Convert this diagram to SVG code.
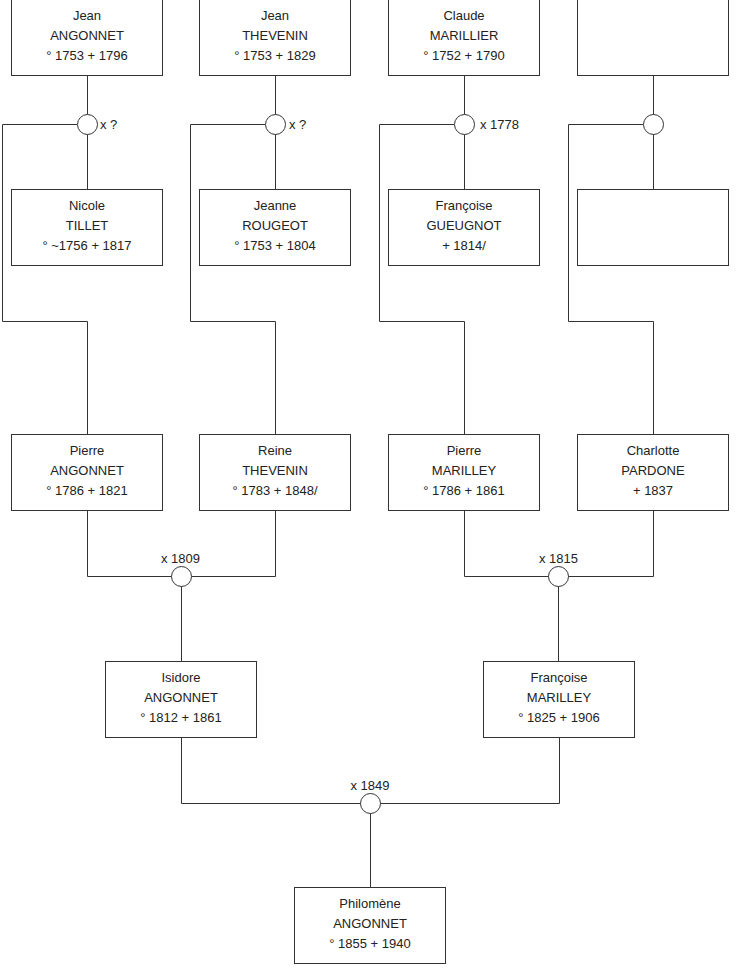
<svg xmlns="http://www.w3.org/2000/svg" width="740" height="975" viewBox="0 0 740 975">
<style>
.box{fill:#fff;stroke:#333;stroke-width:1}
.ln{fill:none;stroke:#333;stroke-width:1}
.ring{fill:#fff;stroke:#333;stroke-width:1}
text{font-family:"Liberation Sans",Arial,sans-serif;font-size:13px;fill:#222}
.c{text-anchor:middle}
</style>
<rect width="740" height="975" fill="#fff"/>
<g id="connectors">
<path class="ln" d="M87.5 75.5V189.5M77 124.5H2.5V321.5H87.5V434.5"/>
<path class="ln" d="M275.5 75.5V189.5M265 124.5H190.5V321.5H275.5V434.5"/>
<path class="ln" d="M464.5 75.5V189.5M454 124.5H379.5V321.5H464.5V434.5"/>
<path class="ln" d="M653.5 75.5V189.5M643 124.5H568.5V321.5H653.5V434.5"/>
<path class="ln" d="M87.5 510.5V576.5H275.5V510.5M181.5 576.5V661.5"/>
<path class="ln" d="M464.5 510.5V576.5H653.5V510.5M558.5 576.5V661.5"/>
<path class="ln" d="M181.5 737.5V803.5H559.5V737.5M370.5 803.5V887.5"/>
<circle class="ring" cx="87.5" cy="124.5" r="10"/>
<circle class="ring" cx="275.5" cy="124.5" r="10"/>
<circle class="ring" cx="464.5" cy="124.5" r="10"/>
<circle class="ring" cx="653.5" cy="124.5" r="10"/>
<circle class="ring" cx="181.5" cy="576.5" r="10"/>
<circle class="ring" cx="558.5" cy="576.5" r="10"/>
<circle class="ring" cx="370.5" cy="803.5" r="10"/>
<text x="100" y="128.5">x ?</text>
<text x="289" y="128.5">x ?</text>
<text x="480" y="128.5">x 1778</text>
<text class="c" x="180.5" y="563">x 1809</text>
<text class="c" x="558.5" y="563">x 1815</text>
<text class="c" x="370" y="790">x 1849</text>
</g>
<g id="jean-angonnet"><rect class="box" x="11.5" y="-0.5" width="151" height="76"/><text class="c" x="87" y="19.5">Jean</text><text class="c" x="87" y="39.5">ANGONNET</text><text class="c" x="87" y="59.5">° 1753 + 1796</text></g>
<g id="jean-thevenin"><rect class="box" x="199.5" y="-0.5" width="151" height="76"/><text class="c" x="275" y="19.5">Jean</text><text class="c" x="275" y="39.5">THEVENIN</text><text class="c" x="275" y="59.5">° 1753 + 1829</text></g>
<g id="claude-marillier"><rect class="box" x="388.5" y="-0.5" width="151" height="76"/><text class="c" x="464" y="19.5">Claude</text><text class="c" x="464" y="39.5">MARILLIER</text><text class="c" x="464" y="59.5">° 1752 + 1790</text></g>
<g id="unknown-father"><rect class="box" x="577.5" y="-0.5" width="151" height="76"/></g>
<g id="nicole-tillet"><rect class="box" x="11.5" y="189.5" width="151" height="76"/><text class="c" x="87" y="210">Nicole</text><text class="c" x="87" y="230">TILLET</text><text class="c" x="87" y="250">° ~1756 + 1817</text></g>
<g id="jeanne-rougeot"><rect class="box" x="199.5" y="189.5" width="151" height="76"/><text class="c" x="275" y="210">Jeanne</text><text class="c" x="275" y="230">ROUGEOT</text><text class="c" x="275" y="250">° 1753 + 1804</text></g>
<g id="francoise-gueugnot"><rect class="box" x="388.5" y="189.5" width="151" height="76"/><text class="c" x="464" y="210">Françoise</text><text class="c" x="464" y="230">GUEUGNOT</text><text class="c" x="464" y="250">+ 1814/</text></g>
<g id="unknown-mother"><rect class="box" x="577.5" y="189.5" width="151" height="76"/></g>
<g id="pierre-angonnet"><rect class="box" x="11.5" y="434.5" width="151" height="76"/><text class="c" x="87" y="455">Pierre</text><text class="c" x="87" y="475">ANGONNET</text><text class="c" x="87" y="495">° 1786 + 1821</text></g>
<g id="reine-thevenin"><rect class="box" x="199.5" y="434.5" width="151" height="76"/><text class="c" x="275" y="455">Reine</text><text class="c" x="275" y="475">THEVENIN</text><text class="c" x="275" y="495">° 1783 + 1848/</text></g>
<g id="pierre-marilley"><rect class="box" x="388.5" y="434.5" width="151" height="76"/><text class="c" x="464" y="455">Pierre</text><text class="c" x="464" y="475">MARILLEY</text><text class="c" x="464" y="495">° 1786 + 1861</text></g>
<g id="charlotte-pardone"><rect class="box" x="577.5" y="434.5" width="151" height="76"/><text class="c" x="653" y="455">Charlotte</text><text class="c" x="653" y="475">PARDONE</text><text class="c" x="653" y="495">+ 1837</text></g>
<g id="isidore-angonnet"><rect class="box" x="105.5" y="661.5" width="151" height="76"/><text class="c" x="181" y="682">Isidore</text><text class="c" x="181" y="702">ANGONNET</text><text class="c" x="181" y="722">° 1812 + 1861</text></g>
<g id="francoise-marilley"><rect class="box" x="483.5" y="661.5" width="151" height="76"/><text class="c" x="559" y="682">Françoise</text><text class="c" x="559" y="702">MARILLEY</text><text class="c" x="559" y="722">° 1825 + 1906</text></g>
<g id="philomene-angonnet"><rect class="box" x="294.5" y="887.5" width="151" height="76"/><text class="c" x="370" y="908">Philomène</text><text class="c" x="370" y="928">ANGONNET</text><text class="c" x="370" y="948">° 1855 + 1940</text></g>
</svg>
